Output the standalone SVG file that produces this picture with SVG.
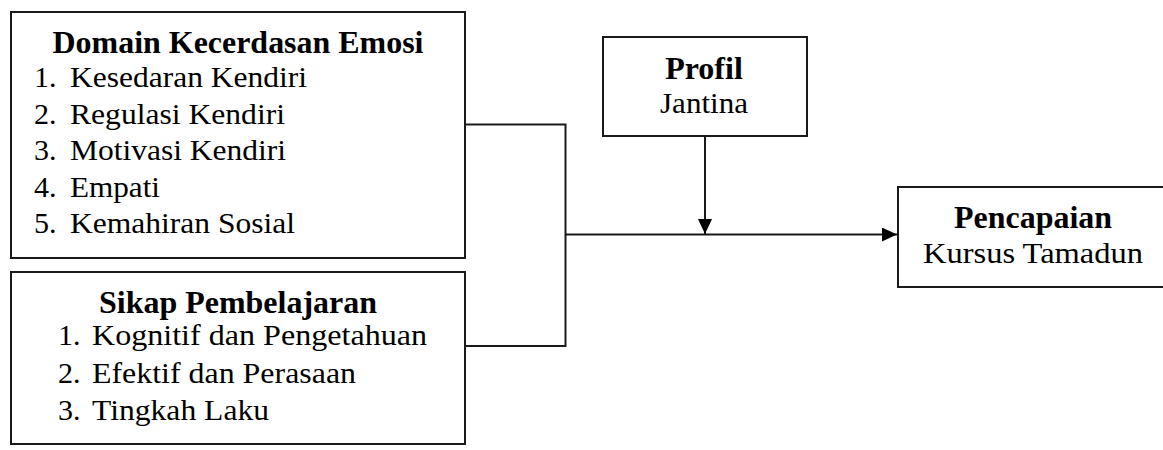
<svg xmlns="http://www.w3.org/2000/svg" width="1163" height="450" viewBox="0 0 1163 450">
<style>
.box{fill:#fff;stroke:#1a1a1a;stroke-width:2}
.ln{fill:none;stroke:#1a1a1a;stroke-width:2}
.t{font-size:32px;font-weight:700;text-anchor:middle}
.r{font-size:30px;font-weight:400}
.rc{font-size:30px;font-weight:400;text-anchor:middle}
</style>
<defs>
<marker id="ah" viewBox="0 0 15 14" refX="15" refY="7" markerWidth="15" markerHeight="14" markerUnits="userSpaceOnUse" orient="auto">
<path d="M0,0 L15,7 L0,14 z" fill="#000"/>
</marker>
</defs>
<rect width="1163" height="450" fill="#fff"/>
<g id="connectors">
<path class="ln" d="M465,124.5 H565.5 V346 H465"/>
<path class="ln" d="M565.5,234.5 H897" marker-end="url(#ah)"/>
<path class="ln" d="M705,136 V234" marker-end="url(#ah)"/>
</g>
<g font-family="Liberation Serif, Times New Roman, Times, DejaVu Serif, serif" fill="#000">
<g id="domain">
<rect class="box" x="11" y="12" width="454" height="246"/>
<text class="t" x="238" y="53" textLength="371" lengthAdjust="spacingAndGlyphs">Domain Kecerdasan Emosi</text>
<text class="r" x="34" y="87">1.</text><text class="r" x="70" y="87" textLength="237" lengthAdjust="spacingAndGlyphs">Kesedaran Kendiri</text>
<text class="r" x="34" y="123.5">2.</text><text class="r" x="70" y="123.5" textLength="215" lengthAdjust="spacingAndGlyphs">Regulasi Kendiri</text>
<text class="r" x="34" y="160">3.</text><text class="r" x="70" y="160" textLength="216" lengthAdjust="spacingAndGlyphs">Motivasi Kendiri</text>
<text class="r" x="34" y="196.5">4.</text><text class="r" x="70" y="196.5" textLength="90" lengthAdjust="spacingAndGlyphs">Empati</text>
<text class="r" x="34" y="233">5.</text><text class="r" x="70" y="233" textLength="225" lengthAdjust="spacingAndGlyphs">Kemahiran Sosial</text>
</g>
<g id="sikap">
<rect class="box" x="11" y="272" width="454" height="172"/>
<text class="t" x="238" y="313" textLength="278" lengthAdjust="spacingAndGlyphs">Sikap Pembelajaran</text>
<text class="r" x="58" y="345">1.</text><text class="r" x="92" y="345" textLength="335" lengthAdjust="spacingAndGlyphs">Kognitif dan Pengetahuan</text>
<text class="r" x="58" y="382.5">2.</text><text class="r" x="92" y="382.5" textLength="264" lengthAdjust="spacingAndGlyphs">Efektif dan Perasaan</text>
<text class="r" x="58" y="420">3.</text><text class="r" x="92" y="420" textLength="177" lengthAdjust="spacingAndGlyphs">Tingkah Laku</text>
</g>
<g id="profil">
<rect class="box" x="603" y="37" width="204" height="99"/>
<text class="t" x="704" y="79">Profil</text>
<text class="rc" x="704" y="113" textLength="88" lengthAdjust="spacingAndGlyphs">Jantina</text>
</g>
<g id="pencapaian">
<rect class="box" x="898" y="187" width="280" height="100"/>
<text class="t" x="1033" y="228" textLength="158" lengthAdjust="spacingAndGlyphs">Pencapaian</text>
<text class="rc" x="1033" y="263" textLength="220" lengthAdjust="spacingAndGlyphs">Kursus Tamadun</text>
</g>
</g>
</svg>
